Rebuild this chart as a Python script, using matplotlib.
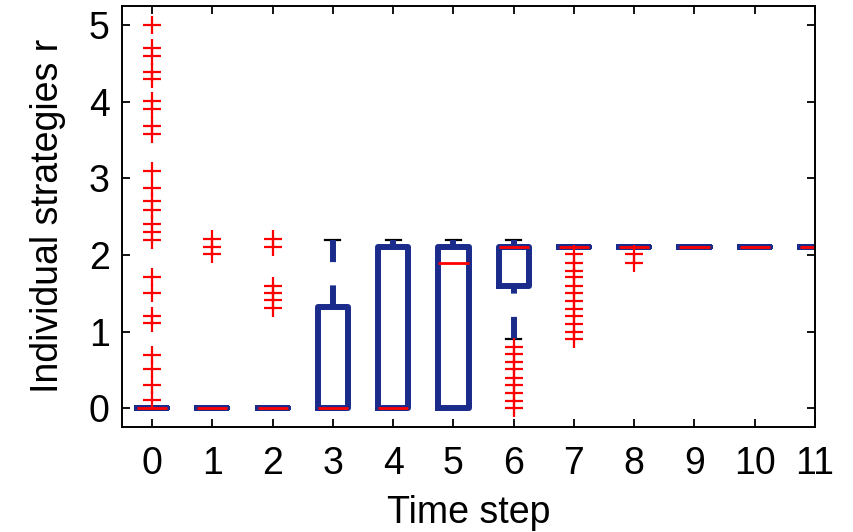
import matplotlib
matplotlib.use("Agg")
import matplotlib.pyplot as plt

# ===== DONNEES ===== #
steps = list(range(12))
q1 = [0, 0, 0, 0, 0, 0, 1.59, 2.11, 2.11, 2.11, 2.11, 2.11]
med = [0, 0, 0, 0, 0, 1.90, 2.11, 2.11, 2.11, 2.11, 2.11, 2.11]
q3 = [0, 0, 0, 1.32, 2.11, 2.11, 2.11, 2.11, 2.11, 2.11, 2.11, 2.11]
whislo = [0, 0, 0, 0, 0, 0, 0.91, 2.11, 2.11, 2.11, 2.11, 2.11]
whishi = [0, 0, 0, 2.19, 2.19, 2.19, 2.19, 2.11, 2.11, 2.11, 2.11, 2.11]
outliers = [
    [5.0, 4.70, 4.60, 4.39, 4.30, 4.01, 3.90, 3.68, 3.58, 3.10, 2.88, 2.70,
     2.59, 2.40, 2.30, 2.20, 1.71, 1.50, 1.21, 1.11, 0.70, 0.51, 0.30, 0.11],
    [2.21, 2.11, 2.01],
    [2.21, 2.11, 1.60, 1.50, 1.41, 1.31],
    [], [], [],
    [0.80, 0.71, 0.61, 0.51, 0.40, 0.30, 0.20, 0.10, 0.0],
    [2.01, 1.90, 1.79, 1.71, 1.60, 1.50, 1.40, 1.30, 1.20, 1.10, 1.00, 0.91],
    [2.01, 1.90],
    [], [], [],
]
xlabels = [str(s) for s in steps]

BLEU = '#1a2b8c'
ROUGE = '#ff0000'

plt.rcParams['font.family'] = ['Liberation Sans', 'DejaVu Sans']

fig = plt.figure(figsize=(8.54, 5.32), dpi=100)
ax = fig.add_axes([0.1429, 0.198, 0.8114, 0.7907])

stats = []
for i in steps:
    stats.append(dict(med=med[i], q1=q1[i], q3=q3[i], whislo=whislo[i],
                      whishi=whishi[i], fliers=outliers[i]))

parts = ax.bxp(stats, positions=steps, widths=0.5, capwidths=0.25,
               boxprops=dict(color=BLEU, linewidth=4.3, zorder=2.1),
               whiskerprops=dict(color=BLEU, linewidth=4.3,
                                 linestyle=(0, (3.7, 3.9))),
               capprops=dict(color='black', linewidth=1.6, zorder=1.9),
               medianprops=dict(color=ROUGE, linewidth=2, zorder=2.2),
               flierprops=dict(marker='+', markeredgecolor=ROUGE,
                               markersize=13.5, markeredgewidth=1.6,
                               zorder=2.3))

# les tirets partent du bout de la moustache
for w in parts['whiskers']:
    w.set_ydata(w.get_ydata()[::-1])

ax.set_xlim(-0.5, 11)
ax.set_ylim(-0.24, 5.25)
ax.set_xticks(steps)
ax.set_xticklabels(xlabels)
ax.set_yticks([0, 1, 2, 3, 4, 5])
ax.tick_params(direction='in', length=6, width=1.3, top=True, right=True,
               labelsize=27)
ax.tick_params(axis='x', pad=14)
ax.tick_params(axis='y', pad=9)
for s in ax.spines.values():
    s.set_linewidth(1.4)

ax.set_xlabel('Time step', fontsize=27, labelpad=9)
ax.set_ylabel('Individual strategies r', fontsize=27, labelpad=16)

fig.savefig('out.png', dpi=100)
